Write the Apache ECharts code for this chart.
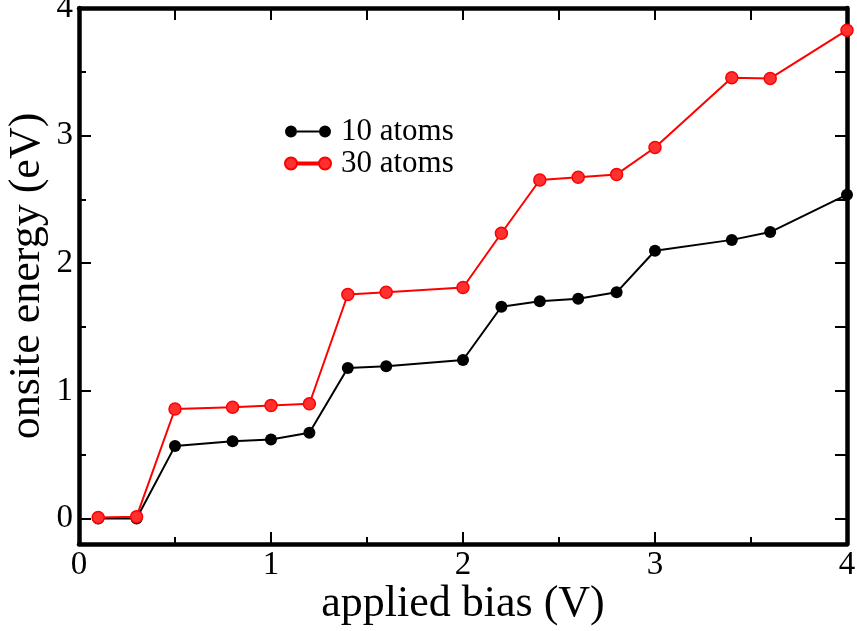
<!DOCTYPE html>
<html><head><meta charset="utf-8">
<script src="https://cdn.jsdelivr.net/npm/echarts@6/dist/echarts.min.js"></script>
<style>html,body{margin:0;padding:0;background:#fff}#c{width:857px;height:631px}</style>
</head><body><div id="c"></div>
<script>
const bias = [0.1, 0.3, 0.5, 0.8, 1.0, 1.2, 1.4, 1.6, 2.0, 2.2, 2.4, 2.6, 2.8, 3.0, 3.4, 3.6, 4.0];
const atoms10 = [0.0, 0.0, 0.567, 0.605, 0.619, 0.671, 1.179, 1.193, 1.242, 1.659, 1.703, 1.722, 1.772, 2.098, 2.183, 2.244, 2.537];
const atoms30 = [0.008, 0.014, 0.858, 0.871, 0.885, 0.899, 1.755, 1.772, 1.81, 2.235, 2.652, 2.674, 2.696, 2.907, 3.453, 3.448, 3.826];
const xTicks = [0, 1, 2, 3, 4];
const yTicks = [0, 1, 2, 3, 4];
const yMinorTicks = [0.5, 1.5, 2.5, 3.5];
const halfTicks = [0, 0.5, 1, 1.5, 2, 2.5, 3, 3.5, 4];

const FONT = '"Liberation Serif", "DejaVu Serif", serif';
const chart = echarts.init(document.getElementById('c'));
const LINE = {show: true, onZero: false, lineStyle: {color: '#000', width: 4.5}};
const tick = (len, vals) => ({show: true, inside: true, length: len, lineStyle: {color: '#000', width: 2},
  customValues: vals});
const legendIcon = 'path://M0,6a6,6 0 1,0 12,0a6,6 0 1,0 -12,0z M34,6a6,6 0 1,0 12,0a6,6 0 1,0 -12,0z M12,5h22v2h-22z';
const pair = (a, b) => a.map((v, i) => [v, b[i]]);
chart.setOption({
  animation: false,
  backgroundColor: '#fff',
  grid: {left: 79, right: 10, top: 8, bottom: 87, containLabel: false, outerBoundsMode: 'none'},
  legend: {
    orient: 'vertical', left: 279, top: 111, itemGap: 1,
    itemWidth: 46, itemHeight: 12,
    textStyle: {fontFamily: FONT, fontSize: 31, color: '#000', padding: [0, 0, 0, 5]},
    data: [{name: '10 atoms', icon: legendIcon}, {name: '30 atoms', icon: legendIcon}]
  },
  xAxis: [
    {
      type: 'value', min: 0, max: 4, interval: 1, position: 'bottom',
      axisLine: LINE,
      axisTick: {show: true, inside: true, length: 12, lineStyle: {color: '#000', width: 2}},
      minorTick: {show: true, splitNumber: 2, length: 7, lineStyle: {color: '#000', width: 2}},
      splitLine: {show: false},
      axisLabel: {show: true, margin: 5, fontFamily: FONT, fontSize: 33, color: '#000',
        customValues: xTicks},
      name: 'applied bias (V)', nameLocation: 'middle', nameGap: 38, nameMoveOverlap: false,
      nameTextStyle: {fontFamily: FONT, fontSize: 44, color: '#000'}
    },
    {
      type: 'value', min: 0, max: 4, interval: 0.5, position: 'top',
      axisLine: LINE, axisTick: tick(12, halfTicks), splitLine: {show: false},
      axisLabel: {show: false}
    }
  ],
  yAxis: [
    {
      type: 'value', min: -0.2, max: 4, position: 'left',
      axisLine: LINE, axisTick: tick(12, yTicks), splitLine: {show: false},
      axisLabel: {show: true, margin: 6, fontFamily: FONT, fontSize: 33, color: '#000',
        customValues: yTicks},
      name: 'onsite energy (eV)', nameLocation: 'middle', nameGap: 30, nameMoveOverlap: false,
      nameTextStyle: {fontFamily: FONT, fontSize: 44, color: '#000'}
    },
    {
      type: 'value', min: -0.2, max: 4, position: 'right',
      axisLine: LINE, axisTick: tick(12, halfTicks), splitLine: {show: false},
      axisLabel: {show: false}
    },
    {
      type: 'value', min: -0.2, max: 4, position: 'left',
      axisLine: {show: false}, axisTick: tick(7, yMinorTicks), splitLine: {show: false},
      axisLabel: {show: false}
    }
  ],
  series: [
    {
      name: '10 atoms', type: 'line', xAxisIndex: 0, yAxisIndex: 0,
      data: pair(bias, atoms10), symbol: 'circle', symbolSize: 12,
      lineStyle: {color: '#000', width: 2}, itemStyle: {color: '#000'}, z: 2
    },
    {
      name: '30 atoms', type: 'line', xAxisIndex: 0, yAxisIndex: 0,
      data: pair(bias, atoms30), symbol: 'circle', symbolSize: 12,
      lineStyle: {color: '#ff0000', width: 2},
      itemStyle: {color: '#ff3030', borderColor: '#ff0000', borderWidth: 1.5}, z: 3
    }
  ]
});
</script></body></html>
